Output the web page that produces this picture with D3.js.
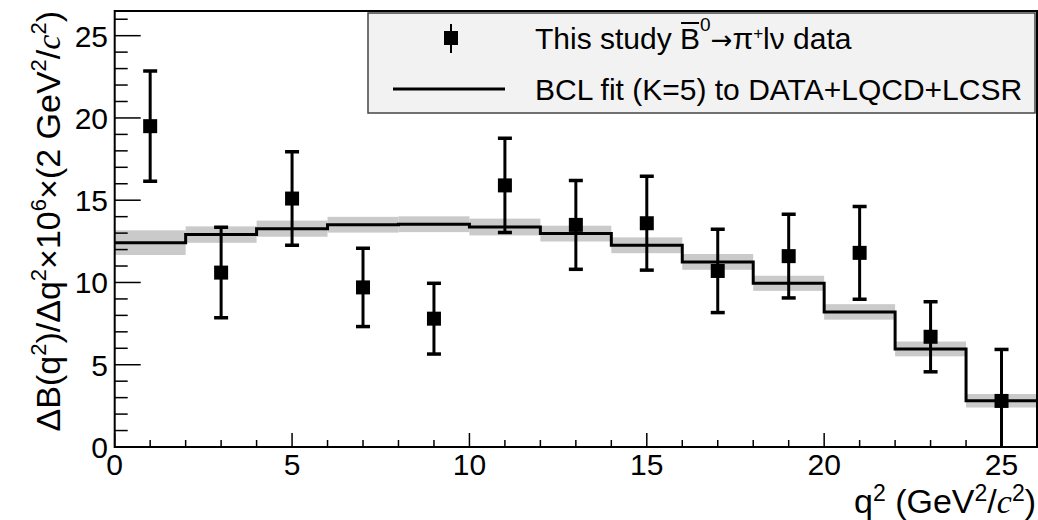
<!DOCTYPE html>
<html>
<head>
<meta charset="utf-8">
<script src="https://cdn.jsdelivr.net/npm/d3@7"></script>
<style>
  body { margin: 0; background: #fff; }
  text { font-family: "Liberation Sans", Arial, Helvetica, sans-serif; fill: #000; }
</style>
</head>
<body>
<div id="graph"></div>
<script>
// bin centres and measured points
const q2 = [1, 3, 5, 7, 9, 11, 13, 15, 17, 19, 21, 23, 25];
const dataVal = [19.5, 10.6, 15.1, 9.7, 7.8, 15.9, 13.5, 13.6, 10.7, 11.6, 11.8, 6.7, 2.8];
const dataErr = [3.35, 2.75, 2.84, 2.38, 2.15, 2.86, 2.7, 2.85, 2.53, 2.54, 2.82, 2.13, 3.13];

// BCL fit, one value per 2 GeV^2 bin, with its band
const binEdges = [0, 2, 4, 6, 8, 10, 12, 14, 16, 18, 20, 22, 24, 26];
const fitVal = [12.42, 12.91, 13.27, 13.51, 13.54, 13.37, 12.97, 12.26, 11.25, 9.95, 8.21, 5.96, 2.81];
const fitErr = [0.75, 0.5, 0.49, 0.48, 0.48, 0.51, 0.48, 0.48, 0.48, 0.46, 0.47, 0.45, 0.41];

const xTicks = [0, 5, 10, 15, 20, 25];
const yTicks = [0, 5, 10, 15, 20, 25];

const width = 1038, height = 520;
const margin = {left: 114.7, top: 11, right: 1, bottom: 73};

let svg = d3.select("#graph")
    .append("svg")
    .attr("width", width)
    .attr("height", height);

let x = d3.scaleLinear().domain([0, 26]).range([margin.left, width - margin.right]);
let y = d3.scaleLinear().domain([0, 26.5]).range([height - margin.bottom, margin.top]);

svg.append("defs").append("clipPath").attr("id", "plotclip")
    .append("rect")
    .attr("x", x(0)).attr("y", y(26.5))
    .attr("width", x(26) - x(0)).attr("height", y(0) - y(26.5));

let plot = svg.append("g").attr("clip-path", "url(#plotclip)");

// fit band
plot.selectAll("rect.band")
    .data(fitVal)
    .join("rect")
    .attr("class", "band")
    .attr("x", (d, i) => x(binEdges[i]))
    .attr("width", (d, i) => x(binEdges[i + 1]) - x(binEdges[i]))
    .attr("y", (d, i) => y(d + fitErr[i]))
    .attr("height", (d, i) => y(d - fitErr[i]) - y(d + fitErr[i]))
    .attr("fill", "#cacaca");

// fit line as a histogram step
let stepPts = binEdges.map((e, i) => [e, fitVal[Math.min(i, fitVal.length - 1)]]);
plot.append("path")
    .datum(stepPts)
    .attr("fill", "none")
    .attr("stroke", "#000")
    .attr("stroke-width", 3)
    .attr("d", d3.line().x(d => x(d[0])).y(d => y(d[1])).curve(d3.curveStepAfter));

// error bars
let pts = q2.map((q, i) => ({q: q, v: dataVal[i], e: dataErr[i]}));
let capW = 7;
plot.selectAll("line.err")
    .data(pts)
    .join("line")
    .attr("class", "err")
    .attr("x1", d => x(d.q)).attr("x2", d => x(d.q))
    .attr("y1", d => y(Math.max(0, d.v - d.e))).attr("y2", d => y(d.v + d.e))
    .attr("stroke", "#000").attr("stroke-width", 3);
plot.selectAll("line.capHi")
    .data(pts)
    .join("line")
    .attr("class", "capHi")
    .attr("x1", d => x(d.q) - capW).attr("x2", d => x(d.q) + capW)
    .attr("y1", d => y(d.v + d.e)).attr("y2", d => y(d.v + d.e))
    .attr("stroke", "#000").attr("stroke-width", 3.5);
plot.selectAll("line.capLo")
    .data(pts.filter(d => d.v - d.e > 0))
    .join("line")
    .attr("class", "capLo")
    .attr("x1", d => x(d.q) - capW).attr("x2", d => x(d.q) + capW)
    .attr("y1", d => y(d.v - d.e)).attr("y2", d => y(d.v - d.e))
    .attr("stroke", "#000").attr("stroke-width", 3.5);
plot.selectAll("rect.marker")
    .data(pts)
    .join("rect")
    .attr("class", "marker")
    .attr("x", d => x(d.q) - 7).attr("y", d => y(d.v) - 7)
    .attr("width", 14).attr("height", 14)
    .attr("fill", "#000");

// frame
svg.append("rect")
    .attr("x", x(0)).attr("y", y(26.5))
    .attr("width", x(26) - x(0)).attr("height", y(0) - y(26.5))
    .attr("fill", "none").attr("stroke", "#000").attr("stroke-width", 2);

// axes, ROOT style ticks pointing inwards
let xMinor = d3.range(0, 27, 1);
let xAxis = svg.append("g");
xAxis.selectAll("line")
    .data(xMinor)
    .join("line")
    .attr("x1", d => x(d)).attr("x2", d => x(d))
    .attr("y1", y(0)).attr("y2", d => y(0) - (d % 5 === 0 ? 14 : 7))
    .attr("stroke", "#000").attr("stroke-width", 1.5);
xAxis.selectAll("text")
    .data(xTicks)
    .join("text")
    .attr("x", d => x(d)).attr("y", y(0) + 28)
    .attr("text-anchor", "middle")
    .style("font-size", "30px")
    .text(d => d);

let yMinor = d3.range(0, 27, 1);
let yAxis = svg.append("g");
yAxis.selectAll("line")
    .data(yMinor)
    .join("line")
    .attr("x1", x(0)).attr("x2", d => x(0) + (d % 5 === 0 ? 26 : 13))
    .attr("y1", d => y(d)).attr("y2", d => y(d))
    .attr("stroke", "#000").attr("stroke-width", 1.5);
yAxis.selectAll("text")
    .data(yTicks)
    .join("text")
    .attr("x", 108).attr("y", d => y(d) + 11)
    .attr("text-anchor", "end")
    .style("font-size", "30px")
    .text(d => d);

// axis titles
let xt = svg.append("text")
    .attr("x", 1036).attr("y", 513)
    .attr("text-anchor", "end")
    .style("font-size", "34px");
function xsup(s) {
    xt.append("tspan").attr("dy", -12).style("font-size", "23px").text(s);
}
xt.append("tspan").text("q");
xsup("2");
xt.append("tspan").attr("dy", 12).text(" (GeV");
xsup("2");
xt.append("tspan").attr("dy", 12).text("/");
xt.append("tspan").style("font-family", "Liberation Serif, serif").style("font-style", "italic").text("c");
xsup("2");
xt.append("tspan").attr("dy", 12).text(")");

let yt = svg.append("text")
    .attr("transform", "translate(60, 11) rotate(-90)")
    .attr("text-anchor", "end")
    .style("font-size", "34px");
function ysup(s) {
    yt.append("tspan").attr("dy", -14).style("font-size", "22px").text(s);
}
function ybase(s) {
    yt.append("tspan").attr("dy", 14).text(s);
}
yt.append("tspan").text("\u0394B(q");
ysup("2");
ybase(")/\u0394q");
ysup("2");
ybase("\u00d710");
ysup("6");
ybase("\u00d7(2 GeV");
ysup("2");
ybase("/");
yt.append("tspan").style("font-family", "Liberation Serif, serif").style("font-style", "italic").text("c");
ysup("2");
ybase(")");

// legend
let legend = svg.append("g");
legend.append("rect")
    .attr("x", 368).attr("y", 13)
    .attr("width", 667).attr("height", 100)
    .attr("fill", "#f2f2f2").attr("stroke", "#444").attr("stroke-width", 1.5);

legend.append("line")
    .attr("x1", 451).attr("x2", 451).attr("y1", 24).attr("y2", 53)
    .attr("stroke", "#000").attr("stroke-width", 2);
legend.append("rect")
    .attr("x", 444).attr("y", 31).attr("width", 14).attr("height", 14)
    .attr("fill", "#000");
legend.append("line")
    .attr("x1", 393).attr("x2", 505).attr("y1", 89).attr("y2", 89)
    .attr("stroke", "#000").attr("stroke-width", 3);

let l1 = legend.append("text")
    .attr("x", 535).attr("y", 49)
    .style("font-size", "30px");
l1.append("tspan").text("This study ");
l1.append("tspan").text("B");
l1.append("tspan").attr("dy", -18).style("font-size", "19px").text("0");
l1.append("tspan").attr("dy", 18).style("font-family", "DejaVu Sans, sans-serif").style("font-size", "26px").text("\u2192");
l1.append("tspan").text("\u03c0");
l1.append("tspan").attr("dy", -10).style("font-size", "17px").text("+");
l1.append("tspan").attr("dy", 10).text("l\u03bd data");

// bar over the B
let full = l1.node();
let pre = "This study ".length;
let bx = 535 + full.getSubStringLength(0, pre);
let bw = full.getSubStringLength(pre, 1);
legend.append("line")
    .attr("x1", bx + 1).attr("x2", bx + bw - 1)
    .attr("y1", 23).attr("y2", 23)
    .attr("stroke", "#000").attr("stroke-width", 2);

legend.append("text")
    .attr("x", 535).attr("y", 100)
    .style("font-size", "30px")
    .text("BCL fit (K=5) to DATA+LQCD+LCSR");
</script>
</body>
</html>
